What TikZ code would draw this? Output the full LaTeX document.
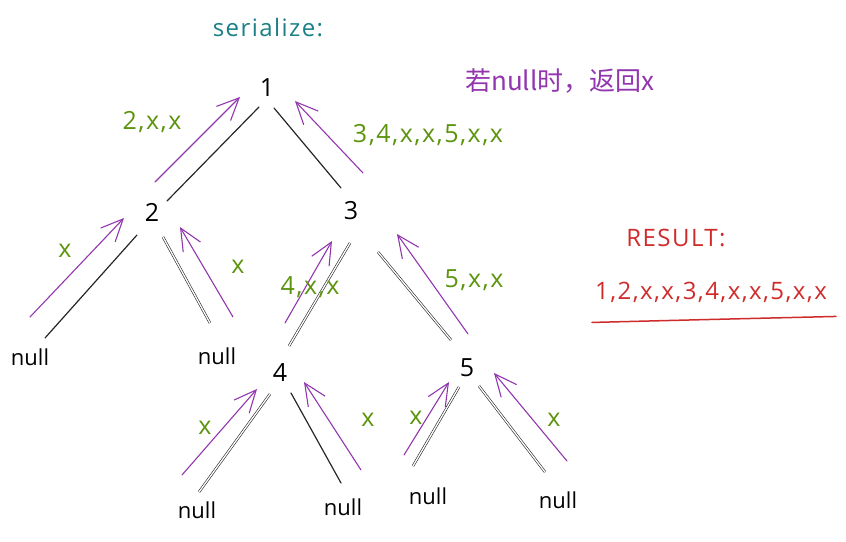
\documentclass[tikz,border=0pt]{standalone}
\usepackage{fontspec}
\setmainfont{Open Sans}
\newfontfamily\hand[LetterSpace=6]{Open Sans}
\newfontfamily\cjk{Noto Sans CJK SC}
\usetikzlibrary{arrows.meta,calc}
\definecolor{tealc}{HTML}{1A7F86}
\definecolor{vio}{HTML}{9236AE}
\definecolor{lgreen}{HTML}{5C940D}
\definecolor{redc}{HTML}{D02B2B}
\tikzset{
  num/.style={font=\fontsize{25}{25}\selectfont, inner sep=0pt},
  nul/.style={font=\fontsize{22}{22}\selectfont, inner sep=0pt},
  lbl/.style={text=lgreen, font=\hand\fontsize{25}{25}\selectfont, inner sep=0pt},
  edge/.style={draw=black!85, line width=1.2pt, line cap=round},
  dedge/.style={draw=black!85, double, line width=0.6pt, double distance=1.3pt},
  arr/.style={draw=vio, line width=1.1pt, line cap=round, line join=round,
    -{Straight Barb[length=22pt,width=20pt,line width=1.1pt]}},
}
\begin{document}
\begin{tikzpicture}[x=1pt,y=-1pt]
\useasboundingbox (0,0) rectangle (846,541);

% titles
\node[text=tealc, font=\hand\fontsize{24}{24}\selectfont, inner sep=0pt] (ser) at (268,28) {serialize:};
\node[text=vio, font=\cjk\fontsize{26}{26}\selectfont, inner sep=0pt] (note) at (560,81) {若null时，返回x};

% tree nodes
\node[num] (n1) at (267,88) {1};
\node[num] (n2) at (152,212) {2};
\node[num] (n3) at (351,211) {3};
\node[num] (n4) at (280,373) {4};
\node[num] (n5) at (467,368) {5};
\node[nul] (nA) at (30,357) {null};
\node[nul] (nB) at (217,356) {null};
\node[nul] (nC) at (197,510) {null};
\node[nul] (nD) at (343,507) {null};
\node[nul] (nE) at (428,496) {null};
\node[nul] (nF) at (558,500) {null};

% black edges
\draw[edge]  ($(n1)+(-8,19)$) -- ($(n2)+(15,-11)$);
\draw[edge]  ($(n1)+(7,20)$) -- ($(n3)+(-10,-23)$);
\draw[edge]  ($(n2)+(-15,23)$) -- ($(nA)+(15,-19)$);
\draw[dedge] ($(n2)+(11,25)$) -- ($(nB)+(-7,-33)$);
\draw[dedge] ($(n3)+(-1,32)$) -- ($(n4)+(9,-27)$);
\draw[dedge] ($(n3)+(27,41)$) -- ($(n5)+(-16,-28)$);
\draw[dedge] ($(n4)+(-10,21)$) -- ($(nC)+(2,-18)$);
\draw[edge]  ($(n4)+(11,20)$) -- ($(nD)+(-2,-24)$);
\draw[dedge] ($(n5)+(-8,19)$) -- ($(nE)+(-15,-30)$);
\draw[dedge] ($(n5)+(12,18)$) -- ($(nF)+(-13,-28)$);

% purple return arrows
\draw[arr] ($(n2)+(3,-30)$) -- ($(n1)+(-27,9)$);
\draw[arr] ($(n3)+(12,-38)$) -- ($(n1)+(28,13)$);
\draw[arr] ($(nA)+(0,-40)$) -- ($(n2)+(-28,6)$);
\draw[arr] ($(nB)+(16,-39)$) -- ($(n2)+(28,15)$);
\draw[arr] ($(n4)+(5,-50)$) -- ($(n3)+(-19,30)$);
\draw[arr] ($(n5)+(1,-34)$) -- ($(n3)+(46,23)$);
\draw[arr] ($(nC)+(-15,-35)$) -- ($(n4)+(-23,16)$);
\draw[arr] ($(nD)+(18,-37)$) -- ($(n4)+(24,9)$);
\draw[arr] ($(nE)+(-24,-41)$) -- ($(n5)+(-18,14)$);
\draw[arr] ($(nF)+(9,-39)$) -- ($(n5)+(27,5)$);

% green labels
\node[lbl] (l21) at (152,122) {2,x,x};
\node[lbl] (l31) at (428,135) {3,4,x,x,5,x,x};
\node[lbl] (lA) at (65,251) {x};
\node[lbl] (lB) at (238,267) {x};
\node[lbl] (l43) at (310,287) {4,x,x};
\node[lbl] (l53) at (474,280) {5,x,x};
\node[lbl] (lC) at (205,428) {x};
\node[lbl] (lD) at (368,420) {x};
\node[lbl] (lE) at (416,418) {x};
\node[lbl] (lF) at (554,420) {x};

% result
\node[text=redc, font=\hand\fontsize{24}{24}\selectfont, inner sep=0pt] (rt) at (676,238) {RESULT:};
\node[text=redc, font=\hand\fontsize{24}{24}\selectfont, inner sep=0pt] (res) at (711,292) {1,2,x,x,3,4,x,x,5,x,x};
\draw[redc, line width=1.5pt, line cap=round] ($(res.south west)+(-3,20)$) .. controls ($(res.south)+(0,17)$) .. ($(res.south east)+(9,14)$);
\end{tikzpicture}
\end{document}
